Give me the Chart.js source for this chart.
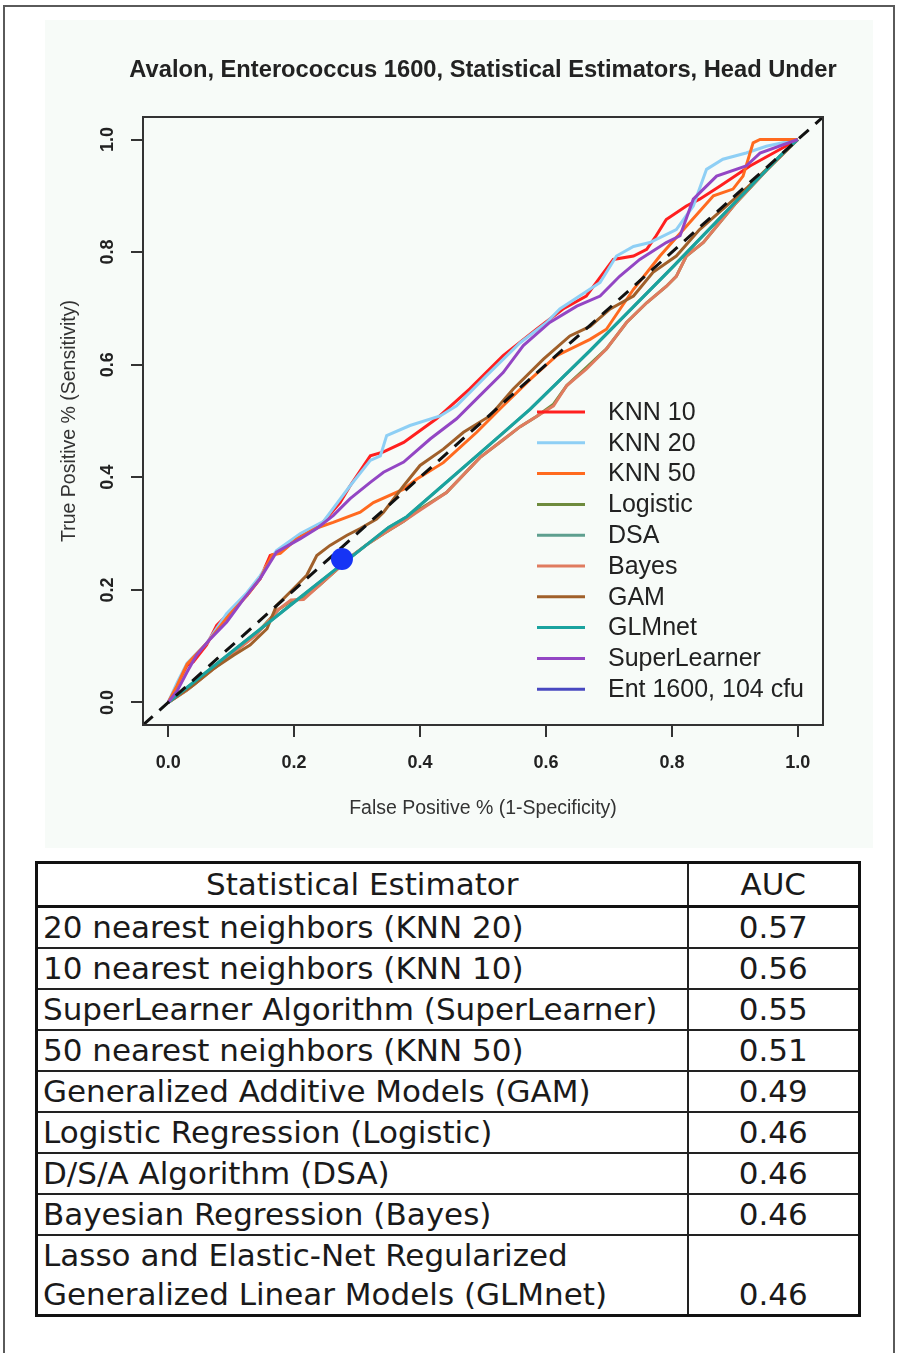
<!DOCTYPE html>
<html>
<head>
<meta charset="utf-8">
<script src="https://cdn.jsdelivr.net/npm/chart.js@4.4.1/dist/chart.umd.min.js"></script>
<style>
  body { margin: 0; background: #fff; width: 898px; height: 1353px; position: relative; overflow: hidden; }
  #moldura { position: absolute; left: 3px; top: 5px; width: 888px; height: 1400px; border: 2px solid #5a5a5a; }
  #painel { position: absolute; left: 45px; top: 20px; width: 828px; height: 828px; background: #f7fbf8; }
  #tabela { position: absolute; left: 35px; top: 861px; width: 823px; border-collapse: collapse; table-layout: fixed;
            font-family: "DejaVu Sans", Verdana, sans-serif; font-size: 31px; color: #1a1a1a; border: 3px solid #111; }
  #tabela th, #tabela td { border: 2px solid #222; padding: 0 5px; height: 39px; line-height: 39px; white-space: pre-line; overflow: hidden; }
  #tabela th { font-weight: normal; text-align: center; border-bottom: 3px solid #111; height: 41px; }
  #tabela td.auc { text-align: center; vertical-align: bottom; }
</style>
</head>
<body>
<div id="moldura"></div>
<div id="painel"><canvas id="graficoRoc" width="828" height="828"></canvas></div>
<table id="tabela">
  <colgroup><col style="width:651px"><col style="width:172px"></colgroup>
  <thead><tr><th>Statistical Estimator</th><th>AUC</th></tr></thead>
  <tbody id="corpoTabela"></tbody>
</table>
<script>
// Curvas ROC: pares [FPR, TPR]
const knn10 = [[0,0],[0.014,0.031],[0.030,0.066],[0.040,0.072],[0.061,0.102],[0.077,0.137],[0.093,0.155],[0.125,0.190],[0.146,0.220],[0.162,0.261],[0.178,0.267],[0.210,0.297],[0.241,0.314],[0.273,0.355],[0.289,0.385],[0.321,0.438],[0.342,0.445],[0.374,0.462],[0.426,0.504],[0.479,0.557],[0.532,0.616],[0.585,0.663],[0.627,0.699],[0.664,0.722],[0.707,0.787],[0.739,0.793],[0.760,0.805],[0.775,0.829],[0.791,0.858],[0.823,0.882],[0.844,0.894],[0.876,0.917],[0.924,0.953],[1,1]];
const knn20 = [[0,0],[0.014,0.035],[0.030,0.070],[0.061,0.105],[0.093,0.158],[0.125,0.195],[0.146,0.225],[0.172,0.270],[0.210,0.300],[0.247,0.322],[0.289,0.385],[0.321,0.430],[0.337,0.438],[0.347,0.474],[0.384,0.492],[0.432,0.509],[0.458,0.527],[0.506,0.581],[0.559,0.639],[0.601,0.675],[0.622,0.699],[0.686,0.746],[0.712,0.793],[0.739,0.810],[0.765,0.817],[0.807,0.840],[0.834,0.882],[0.855,0.947],[0.881,0.965],[0.918,0.976],[0.950,0.988],[1,1]];
const knn50 = [[0,0],[0.014,0.030],[0.030,0.068],[0.061,0.105],[0.093,0.150],[0.125,0.190],[0.146,0.220],[0.165,0.262],[0.178,0.265],[0.204,0.290],[0.236,0.310],[0.262,0.320],[0.305,0.338],[0.326,0.355],[0.374,0.379],[0.395,0.397],[0.437,0.426],[0.490,0.480],[0.532,0.527],[0.575,0.574],[0.617,0.616],[0.670,0.645],[0.696,0.663],[0.739,0.734],[0.781,0.793],[0.823,0.846],[0.866,0.900],[0.897,0.912],[0.913,0.935],[0.929,0.994],[0.940,1.0],[1,1]];
const logistic = [[0,0],[0.03,0.022],[0.07,0.058],[0.10,0.085],[0.14,0.122],[0.175,0.165],[0.195,0.180],[0.215,0.185],[0.24,0.208],[0.27,0.238],[0.289,0.258],[0.315,0.280],[0.345,0.302],[0.374,0.322],[0.395,0.340],[0.442,0.373],[0.495,0.435],[0.53,0.465],[0.559,0.490],[0.585,0.508],[0.612,0.530],[0.633,0.563],[0.664,0.595],[0.696,0.628],[0.728,0.675],[0.760,0.710],[0.791,0.739],[0.807,0.757],[0.823,0.793],[0.850,0.817],[0.90,0.885],[0.95,0.945],[1,1]];
const dsa = [[0,0],[0.2,0.178],[0.35,0.311],[0.379,0.330],[0.527,0.474],[0.575,0.521],[0.67,0.625],[0.80,0.772],[0.971,0.970],[1,1]];
const bayes = [[0,0],[0.03,0.022],[0.07,0.058],[0.10,0.085],[0.14,0.120],[0.175,0.165],[0.195,0.182],[0.215,0.183],[0.24,0.208],[0.27,0.238],[0.289,0.258],[0.315,0.280],[0.345,0.302],[0.374,0.322],[0.395,0.338],[0.442,0.373],[0.495,0.435],[0.53,0.465],[0.559,0.490],[0.585,0.508],[0.612,0.527],[0.633,0.563],[0.664,0.592],[0.696,0.628],[0.728,0.675],[0.760,0.710],[0.791,0.739],[0.807,0.757],[0.823,0.793],[0.850,0.817],[0.90,0.885],[0.95,0.945],[1,1]];
const gam = [[0,0],[0.040,0.031],[0.072,0.060],[0.104,0.084],[0.130,0.102],[0.157,0.131],[0.172,0.172],[0.199,0.202],[0.220,0.226],[0.236,0.261],[0.257,0.279],[0.284,0.297],[0.305,0.309],[0.331,0.326],[0.342,0.338],[0.374,0.385],[0.400,0.421],[0.437,0.450],[0.469,0.480],[0.511,0.509],[0.548,0.557],[0.596,0.610],[0.638,0.651],[0.670,0.668],[0.702,0.699],[0.739,0.722],[0.770,0.764],[0.807,0.793],[0.844,0.840],[0.92,0.915],[1,1]];
const glmnet = [[0,0],[0.2,0.178],[0.35,0.311],[0.379,0.330],[0.527,0.474],[0.575,0.521],[0.67,0.625],[0.80,0.772],[0.971,0.970],[1,1]];
const superLearner = [[0,0],[0.014,0.020],[0.030,0.054],[0.045,0.084],[0.067,0.113],[0.093,0.143],[0.120,0.184],[0.146,0.220],[0.172,0.267],[0.210,0.291],[0.236,0.309],[0.262,0.332],[0.289,0.362],[0.321,0.391],[0.342,0.409],[0.374,0.427],[0.416,0.468],[0.458,0.504],[0.495,0.545],[0.532,0.586],[0.564,0.634],[0.606,0.675],[0.649,0.704],[0.686,0.722],[0.717,0.757],[0.749,0.787],[0.791,0.817],[0.813,0.829],[0.834,0.894],[0.871,0.935],[0.918,0.953],[0.940,0.976],[1,1]];
const ent1600 = [[0.276,0.255]];
const diagonal = [[-0.04,-0.04],[1.04,1.04]];

const ticksEixo = [0, 0.2, 0.4, 0.6, 0.8, 1.0];
const tituloGrafico = 'Avalon, Enterococcus 1600, Statistical Estimators, Head Under';

// Tabela de AUC
const nomesEstimadores = [
  '20 nearest neighbors (KNN 20)',
  '10 nearest neighbors (KNN 10)',
  'SuperLearner Algorithm (SuperLearner)',
  '50 nearest neighbors (KNN 50)',
  'Generalized Additive Models (GAM)',
  'Logistic Regression (Logistic)',
  'D/S/A Algorithm (DSA)',
  'Bayesian Regression (Bayes)',
  'Lasso and Elastic-Net Regularized\nGeneralized Linear Models (GLMnet)'
];
const valoresAuc = ['0.57', '0.56', '0.55', '0.51', '0.49', '0.46', '0.46', '0.46', '0.46'];

const corpo = document.getElementById('corpoTabela');
nomesEstimadores.forEach((nome, i) => {
  const tr = document.createElement('tr');
  const td1 = document.createElement('td');
  td1.textContent = nome;
  const td2 = document.createElement('td');
  td2.className = 'auc';
  td2.textContent = valoresAuc[i];
  tr.appendChild(td1);
  tr.appendChild(td2);
  corpo.appendChild(tr);
});

const pts = arr => arr.map(p => ({x: p[0], y: p[1]}));

function curva(label, dados, cor, ordem) {
  return {
    label: label,
    data: pts(dados),
    showLine: true,
    borderColor: cor,
    backgroundColor: cor,
    borderWidth: 3,
    pointRadius: 0,
    fill: false,
    tension: 0,
    order: ordem
  };
}

const datasets = [
  curva('KNN 10', knn10, '#ff1f1f', 11),
  curva('KNN 20', knn20, '#8ecff5', 10),
  curva('KNN 50', knn50, '#ff6a1f', 9),
  curva('Logistic', logistic, '#6e8b3d', 8),
  curva('DSA', dsa, '#5e9f8f', 7),
  curva('Bayes', bayes, '#e07b5f', 6),
  curva('GAM', gam, '#a0602a', 5),
  curva('GLMnet', glmnet, '#1aa39f', 4),
  curva('SuperLearner', superLearner, '#9346c4', 3),
  {
    label: 'Ent 1600, 104 cfu',
    data: pts(ent1600),
    showLine: false,
    borderColor: '#4848c0',
    backgroundColor: '#1634f5',
    pointRadius: 11,
    pointBorderWidth: 0,
    order: 0
  },
  {
    label: 'diagonal',
    semLegenda: true,
    data: pts(diagonal),
    showLine: true,
    borderColor: '#111',
    borderWidth: 3,
    borderDash: [13, 9],
    pointRadius: 0,
    order: 1
  }
];

// titulo, caixa, rotulos do eixo y e legenda no estilo do R
const extrasRoc = {
  id: 'extrasRoc',
  afterDraw(chart) {
    const ctx = chart.ctx;
    const a = chart.chartArea;
    const sy = chart.scales.y;
    ctx.save();
    ctx.strokeStyle = '#333';
    ctx.lineWidth = 2;
    ctx.strokeRect(a.left, a.top, a.right - a.left, a.bottom - a.top);

    ctx.fillStyle = '#222';
    ctx.textAlign = 'center';
    ctx.textBaseline = 'middle';
    ctx.font = 'bold 23.7px "Liberation Sans", Arial, sans-serif';
    ctx.fillText(tituloGrafico, (a.left + a.right) / 2, 50);

    ctx.font = 'bold 18px "Liberation Sans", Arial, sans-serif';
    ticksEixo.forEach(v => {
      ctx.save();
      ctx.translate(sy.right - 35, sy.getPixelForValue(v));
      ctx.rotate(-Math.PI / 2);
      ctx.fillText(v.toFixed(1), 0, 0);
      ctx.restore();
    });

    ctx.font = '25px "Liberation Sans", Arial, sans-serif';
    ctx.textAlign = 'left';
    let i = 0;
    chart.data.datasets.forEach(ds => {
      if (ds.semLegenda) return;
      const y = a.top + 295 + i * 30.8;
      ctx.strokeStyle = ds.borderColor;
      ctx.lineWidth = 3;
      ctx.beginPath();
      ctx.moveTo(a.left + 394, y);
      ctx.lineTo(a.left + 442, y);
      ctx.stroke();
      ctx.fillStyle = '#222';
      ctx.fillText(ds.label, a.left + 465, y + 1);
      i++;
    });
    ctx.restore();
  }
};

const ctx = document.getElementById('graficoRoc').getContext('2d');
const graficoRoc = new Chart(ctx, {
  type: 'scatter',
  data: { datasets: datasets },
  options: {
    responsive: false,
    animation: false,
    events: [],
    layout: { padding: { left: 0, right: 50, top: 97, bottom: 0 } },
    plugins: {
      legend: { display: false },
      tooltip: { enabled: false }
    },
    scales: {
      x: {
        type: 'linear',
        min: -0.04,
        max: 1.04,
        afterBuildTicks: s => { s.ticks = ticksEixo.map(v => ({ value: v })); },
        afterFit: s => { s.height = 123; },
        border: { display: false },
        grid: { drawOnChartArea: false, drawTicks: true, tickLength: 12, color: '#333', lineWidth: 2 },
        ticks: {
          padding: 15,
          maxRotation: 0,
          color: '#222',
          font: { family: 'Liberation Sans', size: 18, weight: 'bold' },
          callback: v => v.toFixed(1)
        },
        title: {
          display: true,
          text: 'False Positive % (1-Specificity)',
          color: '#333',
          font: { family: 'Liberation Sans', size: 19.5 },
          padding: { top: 0, bottom: 28 }
        }
      },
      y: {
        type: 'linear',
        min: -0.04,
        max: 1.04,
        afterBuildTicks: s => { s.ticks = ticksEixo.map(v => ({ value: v })); },
        afterFit: s => { s.width = 98; },
        border: { display: false },
        grid: { drawOnChartArea: false, drawTicks: true, tickLength: 12, color: '#333', lineWidth: 2 },
        ticks: { display: false },
        title: {
          display: true,
          text: 'True Positive % (Sensitivity)',
          color: '#333',
          font: { family: 'Liberation Sans', size: 19.5 },
          padding: { top: 13, bottom: 0 }
        }
      }
    }
  },
  plugins: [extrasRoc]
});
</script>
</body>
</html>
